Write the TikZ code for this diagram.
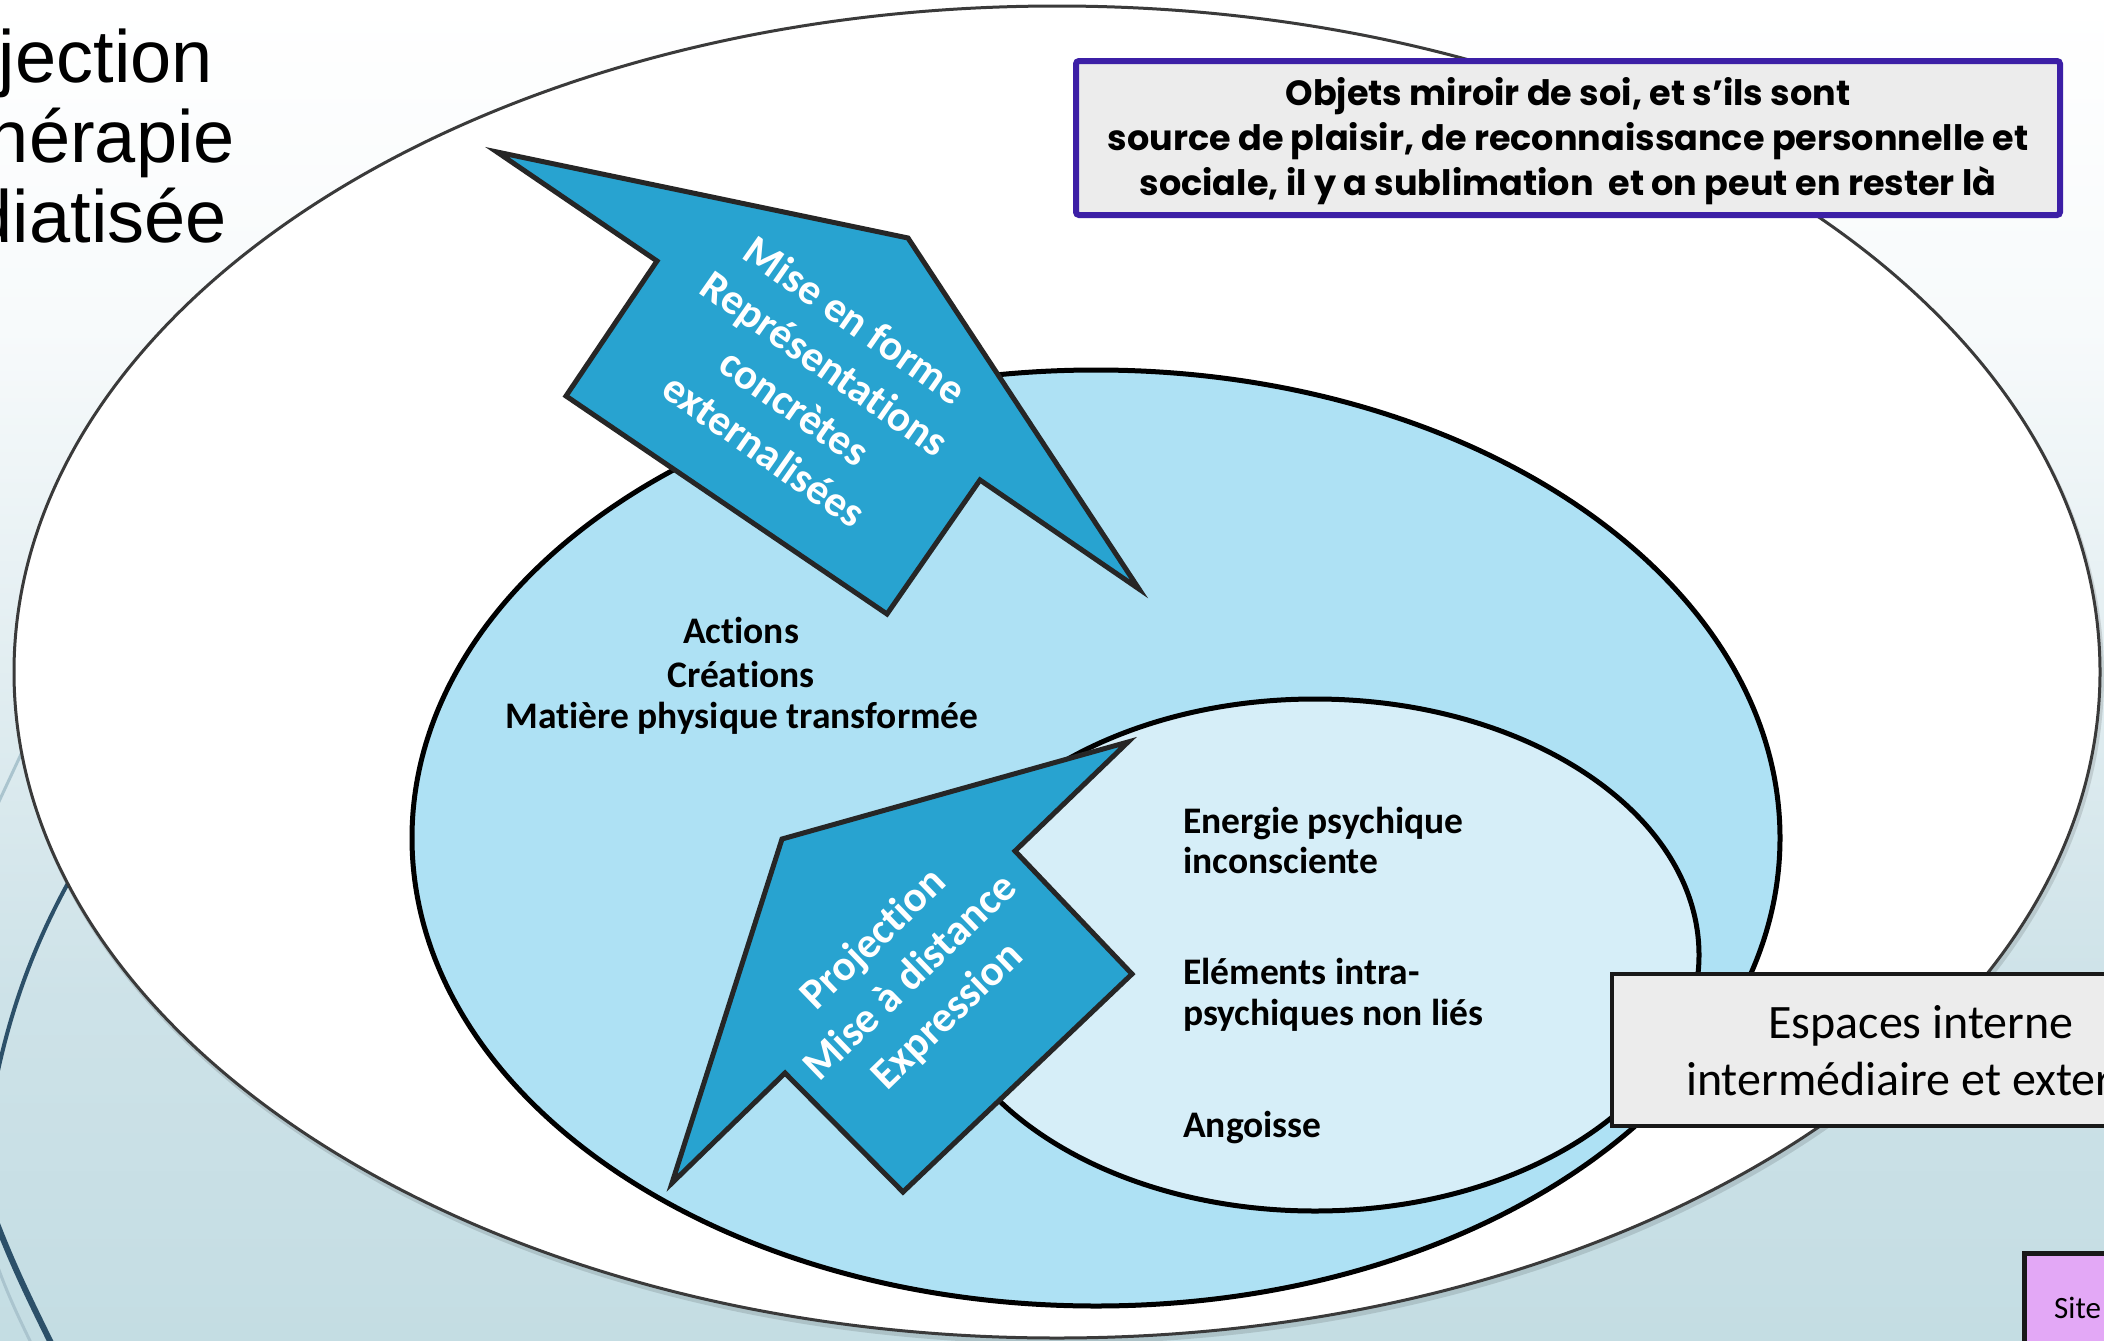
\documentclass[tikz,border=0pt]{standalone}
\usepackage{fontspec}
\setmainfont[Ligatures=NoCommon]{Carlito}
\newfontfamily\popfont{Poppins}
\newfontfamily\arialfont{Liberation Sans}
\definecolor{bgbot}{RGB}{196,221,227}
\definecolor{bgmid}{RGB}{205,226,232}
\definecolor{bgmidb}{RGB}{230,240,243}
\definecolor{bgtop}{RGB}{247,250,251}
\definecolor{midblue}{RGB}{174,225,244}
\definecolor{innerblue}{RGB}{214,238,248}
\definecolor{arrowblue}{RGB}{40,163,208}
\definecolor{arrowline}{RGB}{38,38,38}
\definecolor{boxgray}{RGB}{236,236,236}
\definecolor{purpleline}{RGB}{60,31,166}
\definecolor{pinkfill}{RGB}{227,168,246}
\definecolor{wispdark}{RGB}{44,80,105}
\definecolor{wisplight}{RGB}{170,196,206}
\definecolor{outerline}{RGB}{58,58,58}
\pgfdeclareverticalshading{bgshade}{100bp}{color(0bp)=(bgbot); color(25bp)=(bgbot); color(37.7bp)=(bgmid); color(52.6bp)=(bgmidb); color(62.7bp)=(bgtop); color(75bp)=(white); color(100bp)=(white)}
\begin{document}
\begin{tikzpicture}[x=1pt,y=-1pt,
  ring/.style={draw=black,line width=5pt},
  arrowshape/.style={fill=arrowblue,draw=arrowline,line width=5pt,line join=miter},
  arrowtext/.style={text=white,font=\fontsize{43}{53}\selectfont\bfseries,align=center,inner sep=0pt},
  bodytext/.style={font=\fontsize{37.5}{44}\selectfont\bfseries,inner sep=0pt},
  titletext/.style={font=\arialfont\fontsize{74}{80}\selectfont,inner sep=0pt,anchor=base east},
  boxtext/.style={font=\popfont\bfseries\fontsize{35}{45}\selectfont,inner sep=0pt,anchor=base},
  plaintext/.style={font=\fontsize{48}{52}\selectfont,inner sep=0pt}
]
\useasboundingbox (0,0) rectangle (2104,1341);
\begin{scope}
\clip (0,0) rectangle (2104,1341);
% background
\shade[shading=bgshade] (0,0) rectangle (2104,1341);
% wisp decorations
\draw[wisplight,line width=3pt] (-5,810) -- (30,735);
\draw[wispdark,line width=4pt] (80,862) .. controls (40,930) and (12,1000) .. (-5,1085);
\draw[wisplight,line width=3pt] (-8,1250) .. controls (5,1290) and (20,1320) .. (32,1345);
\draw[wispdark,line width=6pt] (-10,1205) .. controls (10,1260) and (30,1300) .. (52,1345);
% title
\node[titletext] (t1) at (213,82) {jection};
\node[titletext] (t2) at (235,162) {hérapie};
\node[titletext] (t3) at (227,242) {diatisée};
% ellipses
\fill[black,opacity=0.12] (1059,676) ellipse [x radius=1045pt,y radius=668pt];
\draw[fill=white,draw=outerline,line width=3pt] (1057,672) ellipse [x radius=1043pt,y radius=666pt];
\draw[ring,fill=midblue] (1096,838) ellipse [x radius=684pt,y radius=468pt];
\draw[ring,fill=innerblue] (1315,955) ellipse [x radius=384pt,y radius=256pt];
% arrows
\draw[arrowshape] (497,152) -- (908,238) -- (1139,589) -- (980,480) -- (887,614) -- (566,396) -- (657,261) -- cycle;
\draw[arrowshape] (1128,742) -- (782,839) -- (672,1183) -- (785,1073) -- (903,1192) -- (1132,974) -- (1015,851) -- cycle;
\node[arrowtext,rotate=-35] (mise) at (810,385) {Mise en forme\\Représentations\\concrètes\\externalisées};
\node[arrowtext,rotate=44] (proj) at (911,978) {Projection\\Mise à distance\\Expression};
% middle texts
\node[bodytext,anchor=base] (act) at (741,643) {Actions};
\node[bodytext,anchor=base] (cre) at (741,687) {Créations};
\node[bodytext,anchor=base] (mat) at (742,728) {Matière physique transformée};
% inner texts
\node[bodytext,anchor=base west] (en1) at (1183,833) {Energie psychique};
\node[bodytext,anchor=base west] (en2) at (1183,873) {inconsciente};
\node[bodytext,anchor=base west] (el1) at (1183,984) {Eléments intra-};
\node[bodytext,anchor=base west] (el2) at (1183,1025) {psychiques non liés};
\node[bodytext,anchor=base west] (ang) at (1183,1137) {Angoisse};
% purple box
\draw[draw=purpleline,fill=boxgray,line width=6pt,rounded corners=3pt] (1076,61) rectangle (2060,215);
\node[boxtext] (ob1) at (1568,105) {Objets miroir de soi, et s’ils sont};
\node[boxtext] (ob2) at (1568,150) {source de plaisir, de reconnaissance personnelle et};
\node[boxtext] (ob3) at (1568,195) {sociale, il y a sublimation\ \ et on peut en rester là};
% espaces box
\draw[draw=black!90,fill=boxgray,line width=4.5pt] (1612,974) rectangle (2240,1126);
\node[plaintext,anchor=base] (esp1) at (1921,1038) {Espaces interne};
\node[plaintext,anchor=base west] (esp2) at (1686,1095) {intermédiaire et exter};
% pink box
\draw[draw=black!90,fill=pinkfill,line width=5pt] (2024,1253) rectangle (2200,1400);
\node[font=\fontsize{31}{36}\selectfont,inner sep=0pt,anchor=base west] (site) at (2054,1318) {Site};
\end{scope}
\end{tikzpicture}
\end{document}
